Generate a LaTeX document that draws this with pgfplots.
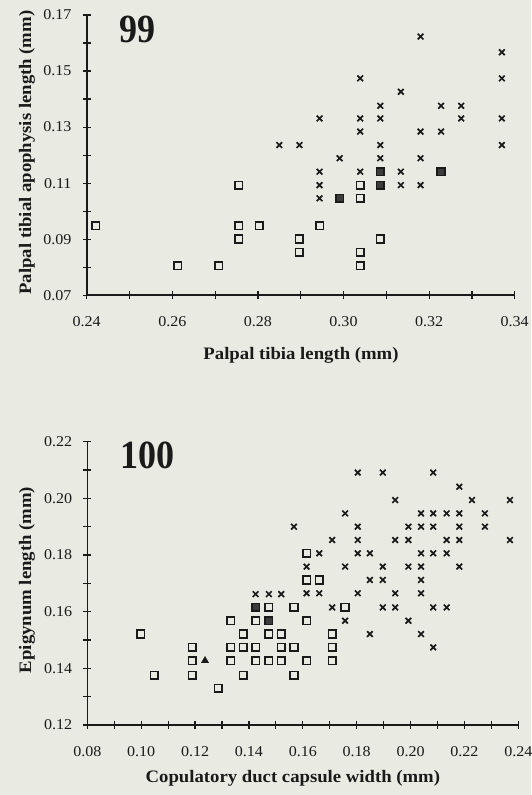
\documentclass[border=0pt]{standalone}
\usepackage{pgfplots}
\pgfplotsset{compat=1.18}
\usepackage{fontspec}
\setmainfont{Liberation Serif}[FakeStretch=1.07]
\newfontfamily\bignum{Liberation Serif}[FakeStretch=0.9]
\definecolor{bg}{HTML}{E9EAE2}
\definecolor{ink}{HTML}{1A1A1A}
\pgfplotsset{
  myaxis/.style={
    scale only axis, clip=false,
    axis lines=left,
    axis line style={line width=1.6pt, -, ink},
    tick align=center,
    major tick length=8pt, minor tick length=8pt,
    every tick/.style={line width=1.2pt, ink},
    minor tick style={line width=1.2pt, ink},
    ticklabel style={font=\fontsize{15}{16}\selectfont, text=ink},
    xticklabel style={anchor=base, yshift=-27pt},
    yticklabel style={anchor=east, inner sep=0pt, xshift=-11pt},
    label style={font=\bfseries\fontsize{17.5}{20}\selectfont, text=ink},
    xlabel style={anchor=base},
    ylabel style={anchor=base, rotate=0},
  },
  opensq/.style={only marks, mark=square, mark size=3.8pt, mark options={line width=1.6pt, draw=ink, fill=bg}},
  fillsq/.style={only marks, mark=square*, mark size=3.8pt, mark options={line width=1.6pt, draw=ink, fill=ink!85}},
  crs/.style={only marks, mark=x, mark size=4pt, mark options={line width=1.7pt, draw=ink}},
}
\begin{document}
\begin{tikzpicture}
\fill[bg] (0pt,0pt) rectangle (531pt,795pt);
\path[use as bounding box] (0pt,0pt) rectangle (531pt,795pt);
% ---------------- Figure 99 ----------------
\begin{axis}[myaxis,
  at={(86.7pt,499.7pt)}, anchor=south west,
  width=428pt, height=280.3pt,
  xmin=0.24, xmax=0.34, ymin=0.07, ymax=0.17,
  xtick={0.24,0.26,0.28,0.30,0.32,0.34},
  xticklabels={0.24,0.26,0.28,0.30,0.32,0.34},
  minor xtick={0.25,0.27,0.29,0.31,0.33},
  ytick={0.07,0.09,0.11,0.13,0.15,0.17},
  yticklabels={0.07,0.09,0.11,0.13,0.15,0.17},
  minor ytick={0.08,0.10,0.12,0.14,0.16},
  xlabel={Palpal tibia length (mm)},
  ylabel={Palpal tibial apophysis length (mm)},
  xlabel style={at={(axis description cs:0.5007,-0.2308)}},
  ylabel style={at={(axis description cs:-0.130,0.509)}},
]
\addplot[crs] coordinates {
(0.2850,0.1236) (0.2897,0.1236) (0.2944,0.1331) (0.2944,0.1141) (0.2944,0.1093)
(0.2944,0.1046) (0.2991,0.1189) (0.3180,0.1623) (0.3370,0.1567) (0.3370,0.1474)
(0.3039,0.1474) (0.3134,0.1426) (0.3086,0.1376) (0.3228,0.1376) (0.3275,0.1376)
(0.3039,0.1331) (0.3086,0.1331) (0.3275,0.1331) (0.3370,0.1331) (0.3039,0.1284)
(0.3180,0.1284) (0.3228,0.1284) (0.3086,0.1236) (0.3370,0.1236) (0.3086,0.1189)
(0.3180,0.1189) (0.3039,0.1141) (0.3134,0.1141) (0.3134,0.1093) (0.3180,0.1093)
};
\addplot[opensq] coordinates {
(0.2421,0.0948) (0.2613,0.0806) (0.2708,0.0806) (0.2755,0.1093) (0.2755,0.0948)
(0.2755,0.0901) (0.2803,0.0948) (0.2897,0.0901) (0.2897,0.0853) (0.2944,0.0948)
(0.3039,0.1093) (0.3039,0.1046) (0.3039,0.0853) (0.3039,0.0806) (0.3086,0.0901)
};
\addplot[fillsq] coordinates {
(0.2991,0.1046) (0.3086,0.1141) (0.3086,0.1093) (0.3228,0.1141)
};
\node[anchor=base west, font=\bignum\bfseries\fontsize{40}{40}\selectfont, text=ink, inner sep=0pt]
  at (axis description cs:0.0755,0.901) {99};
\end{axis}
% ---------------- Figure 100 ----------------
\begin{axis}[myaxis,
  at={(87.3pt,70pt)}, anchor=south west,
  width=431pt, height=283.3pt,
  xmin=0.08, xmax=0.24, ymin=0.12, ymax=0.22,
  xtick={0.08,0.10,0.12,0.14,0.16,0.18,0.20,0.22,0.24},
  xticklabels={0.08,0.10,0.12,0.14,0.16,0.18,0.20,0.22,0.24},
  minor xtick={0.09,0.11,0.13,0.15,0.17,0.19,0.21,0.23},
  ytick={0.12,0.14,0.16,0.18,0.20,0.22},
  yticklabels={0.12,0.14,0.16,0.18,0.20,0.22},
  minor ytick={0.13,0.15,0.17,0.19,0.21},
  xlabel={Copulatory duct capsule width (mm)},
  ylabel={Epigynum length (mm)},
  xlabel style={at={(axis description cs:0.477,-0.2047)}},
  ylabel style={at={(axis description cs:-0.1306,0.512)}},
]
\addplot[crs] coordinates {
(0.1425,0.1662) (0.1474,0.1662) (0.1520,0.1662) (0.1567,0.1900)
(0.1804,0.2091) (0.1897,0.2091) (0.2084,0.2091) (0.2181,0.2041)
(0.1943,0.1994) (0.2228,0.1994) (0.2369,0.1994)
(0.1757,0.1947) (0.2039,0.1947) (0.2084,0.1947) (0.2134,0.1947) (0.2181,0.1947) (0.2276,0.1947)
(0.1804,0.1900) (0.1992,0.1900) (0.2039,0.1900) (0.2084,0.1900) (0.2181,0.1900) (0.2276,0.1900)
(0.1709,0.1853) (0.1804,0.1853) (0.1943,0.1853) (0.1992,0.1853) (0.2134,0.1853) (0.2181,0.1853) (0.2369,0.1853)
(0.1661,0.1806) (0.1804,0.1806) (0.1849,0.1806) (0.2039,0.1806) (0.2084,0.1806) (0.2134,0.1806)
(0.1614,0.1759) (0.1757,0.1759) (0.1897,0.1759) (0.1992,0.1759) (0.2039,0.1759) (0.2181,0.1759)
(0.1849,0.1712) (0.1897,0.1712) (0.2039,0.1712)
(0.1614,0.1665) (0.1661,0.1665) (0.1804,0.1665) (0.1943,0.1665) (0.2039,0.1665)
(0.1709,0.1615) (0.1897,0.1615) (0.1943,0.1615) (0.2084,0.1615) (0.2134,0.1615)
(0.1757,0.1568) (0.1992,0.1568)
(0.1849,0.1521) (0.2039,0.1521)
(0.2084,0.1474)
};
\addplot[opensq] coordinates {
(0.0998,0.1521) (0.1048,0.1376) (0.1190,0.1474) (0.1190,0.1427) (0.1190,0.1376)
(0.1286,0.1330) (0.1332,0.1568) (0.1332,0.1474) (0.1332,0.1427) (0.1379,0.1521)
(0.1379,0.1474) (0.1379,0.1376) (0.1425,0.1568) (0.1425,0.1474) (0.1425,0.1427)
(0.1474,0.1615) (0.1474,0.1521) (0.1474,0.1427) (0.1520,0.1521) (0.1520,0.1474)
(0.1520,0.1427) (0.1567,0.1615) (0.1567,0.1474) (0.1567,0.1376) (0.1614,0.1806)
(0.1614,0.1712) (0.1661,0.1712) (0.1757,0.1615) (0.1614,0.1568) (0.1709,0.1521)
(0.1709,0.1474) (0.1614,0.1427) (0.1709,0.1427)
};
\addplot[fillsq] coordinates {
(0.1425,0.1615) (0.1474,0.1568)
};
\addplot[only marks, mark=triangle*, mark size=4.2pt, mark options={draw=ink, fill=ink}] coordinates {
(0.1237,0.1427)
};
\node[anchor=base west, font=\bignum\bfseries\fontsize{40}{40}\selectfont, text=ink, inner sep=0pt]
  at (axis description cs:0.0759,0.906) {100};
\end{axis}
\end{tikzpicture}
\end{document}
